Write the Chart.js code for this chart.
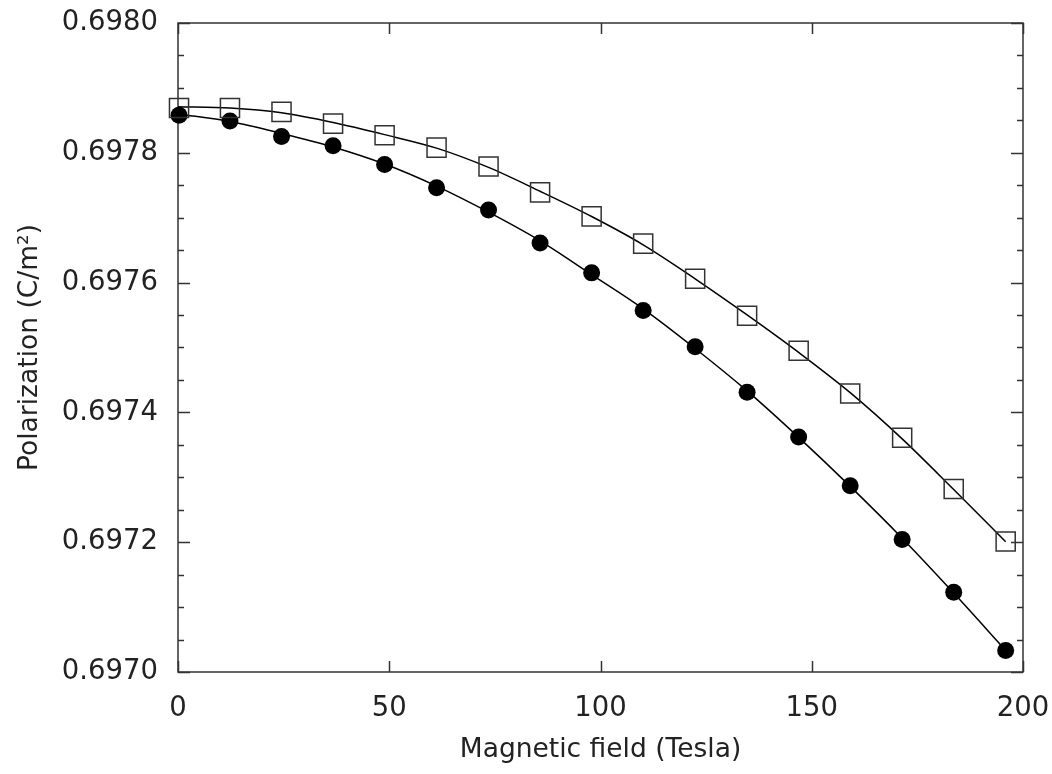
<!DOCTYPE html>
<html>
<head>
<meta charset="utf-8">
<script src="https://cdn.jsdelivr.net/npm/chart.js@4.4.1/dist/chart.umd.min.js"></script>
<style>
  html, body { margin: 0; padding: 0; background: #fff; }
  #wrap { width: 1052px; height: 774px; position: relative; }
</style>
</head>
<body>
<div id="wrap"><canvas id="c" width="1052" height="774"></canvas></div>
<script>
// Data
const fieldTesla = [0.24, 12.3, 24.5, 36.7, 48.9, 61.2, 73.5, 85.7, 97.9, 110.1, 122.4, 134.7, 146.9, 159.1, 171.4, 183.6, 195.9];
const polCircles = [0.697858, 0.697849, 0.697825, 0.697811, 0.697782, 0.697746, 0.697712, 0.697661, 0.697615, 0.697557, 0.697501, 0.697431, 0.697362, 0.697287, 0.697204, 0.697123, 0.697033];
const polSquares = [0.697869, 0.697869, 0.697863, 0.697845, 0.697827, 0.697808, 0.697779, 0.697739, 0.697702, 0.697660, 0.697606, 0.697549, 0.697495, 0.697429, 0.697361, 0.697282, 0.697201];
// Fitted curves
const fitField = [0, 12.3, 24.5, 36.7, 48.9, 61.2, 73.5, 85.7, 97.9, 110.1, 122.4, 134.7, 146.9, 159.1, 171.4, 183.6, 195.9];
const fitCircles = [0.6978598, 0.6978482, 0.6978299, 0.6978090, 0.6977827, 0.6977487, 0.6977085, 0.6976644, 0.6976123, 0.6975596, 0.6974985, 0.6974331, 0.6973615, 0.6972860, 0.6972062, 0.6971217, 0.6970334];
const fitSquares = [0.6978710, 0.6978690, 0.6978616, 0.6978467, 0.6978280, 0.6978072, 0.6977775, 0.6977407, 0.6977018, 0.6976582, 0.6976059, 0.6975502, 0.6974924, 0.6974304, 0.6973592, 0.6972812, 0.6972008];
const xTicks = [0, 50, 100, 150, 200];
const yTicks = [0.6970, 0.6972, 0.6974, 0.6976, 0.6978, 0.6980];
const yMinorTicks = [0.69705, 0.6971, 0.69715, 0.69725, 0.6973, 0.69735, 0.69745, 0.6975, 0.69755, 0.69765, 0.6977, 0.69775, 0.69785, 0.6979, 0.69795];

const FONT = "'DejaVu Sans', sans-serif";
const pts = (xs, ys) => xs.map((x, i) => ({ x: x, y: ys[i] }));

const frameTicks = {
  id: 'frameTicks',
  beforeDatasetsDraw(chart) {
    const { ctx, chartArea: a, scales: { x, y } } = chart;
    ctx.save();
    ctx.strokeStyle = '#333';
    ctx.lineWidth = 1.5;
    ctx.strokeRect(a.left, a.top, a.right - a.left, a.bottom - a.top);
    ctx.beginPath();
    xTicks.forEach(v => {
      const px = Math.round(x.getPixelForValue(v)) + 0.5;
      ctx.moveTo(px, a.bottom); ctx.lineTo(px, a.bottom - 11);
      ctx.moveTo(px, a.top); ctx.lineTo(px, a.top + 11);
    });
    yTicks.forEach(v => {
      const py = Math.round(y.getPixelForValue(v)) + 0.5;
      ctx.moveTo(a.left, py); ctx.lineTo(a.left + 12, py);
      ctx.moveTo(a.right, py); ctx.lineTo(a.right - 12, py);
    });
    yMinorTicks.forEach(v => {
      const py = Math.round(y.getPixelForValue(v)) + 0.5;
      ctx.moveTo(a.left, py); ctx.lineTo(a.left + 6, py);
      ctx.moveTo(a.right, py); ctx.lineTo(a.right - 6, py);
    });
    ctx.stroke();
    ctx.restore();
  }
};

const zeroPad = (s) => { s.paddingTop = 0; s.paddingBottom = 0; s.paddingLeft = 0; s.paddingRight = 0; };
const lineDs = (ys) => ({
  data: pts(fitField, ys),
  showLine: true,
  cubicInterpolationMode: 'monotone',
  borderColor: '#000',
  borderWidth: 1.5,
  pointRadius: 0,
  order: 1,
  clip: false
});

new Chart(document.getElementById('c'), {
  type: 'scatter',
  data: {
    datasets: [
      lineDs(fitSquares),
      lineDs(fitCircles),
      {
        data: pts(fieldTesla, polSquares),
        showLine: false,
        pointStyle: 'rect',
        pointRadius: 13.5,
        pointBorderColor: '#333',
        pointBorderWidth: 1.5,
        pointBackgroundColor: 'rgba(0,0,0,0)',
        order: 0,
        clip: false
      },
      {
        data: pts(fieldTesla, polCircles),
        showLine: false,
        pointStyle: 'circle',
        pointRadius: 8.5,
        pointBorderWidth: 0,
        pointBackgroundColor: '#000',
        order: 0,
        clip: false
      }
    ]
  },
  options: {
    responsive: false,
    animation: false,
    events: [],
    layout: { padding: { left: 8, right: 29, top: 23, bottom: 8 } },
    plugins: { legend: { display: false }, tooltip: { enabled: false } },
    scales: {
      x: {
        type: 'linear', min: 0, max: 200,
        afterBuildTicks: (s) => { s.ticks = xTicks.map(v => ({ value: v })); },
        grid: { display: false, drawTicks: false },
        border: { display: false },
        ticks: { font: { family: FONT, size: 27.5 }, color: '#222', padding: 20, maxRotation: 0 },
        title: { display: true, text: 'Magnetic field (Tesla)', font: { family: FONT, size: 26.5 }, color: '#222', padding: { top: 4, bottom: 0 } },
        afterFit: (s) => { s.height = 94; zeroPad(s); }
      },
      y: {
        type: 'linear', min: 0.6970, max: 0.6980,
        afterBuildTicks: (s) => { s.ticks = yTicks.map(v => ({ value: v })); },
        grid: { display: false, drawTicks: false },
        border: { display: false },
        ticks: { font: { family: FONT, size: 27.5 }, color: '#222', padding: 20, callback: (v) => Number(v).toFixed(4) },
        title: { display: true, text: 'Polarization (C/m²)', font: { family: FONT, size: 26.5 }, color: '#222', padding: { top: 6, bottom: 4 } },
        afterFit: (s) => { s.width = 170; zeroPad(s); }
      }
    }
  },
  plugins: [frameTicks]
});
</script>
</body>
</html>
